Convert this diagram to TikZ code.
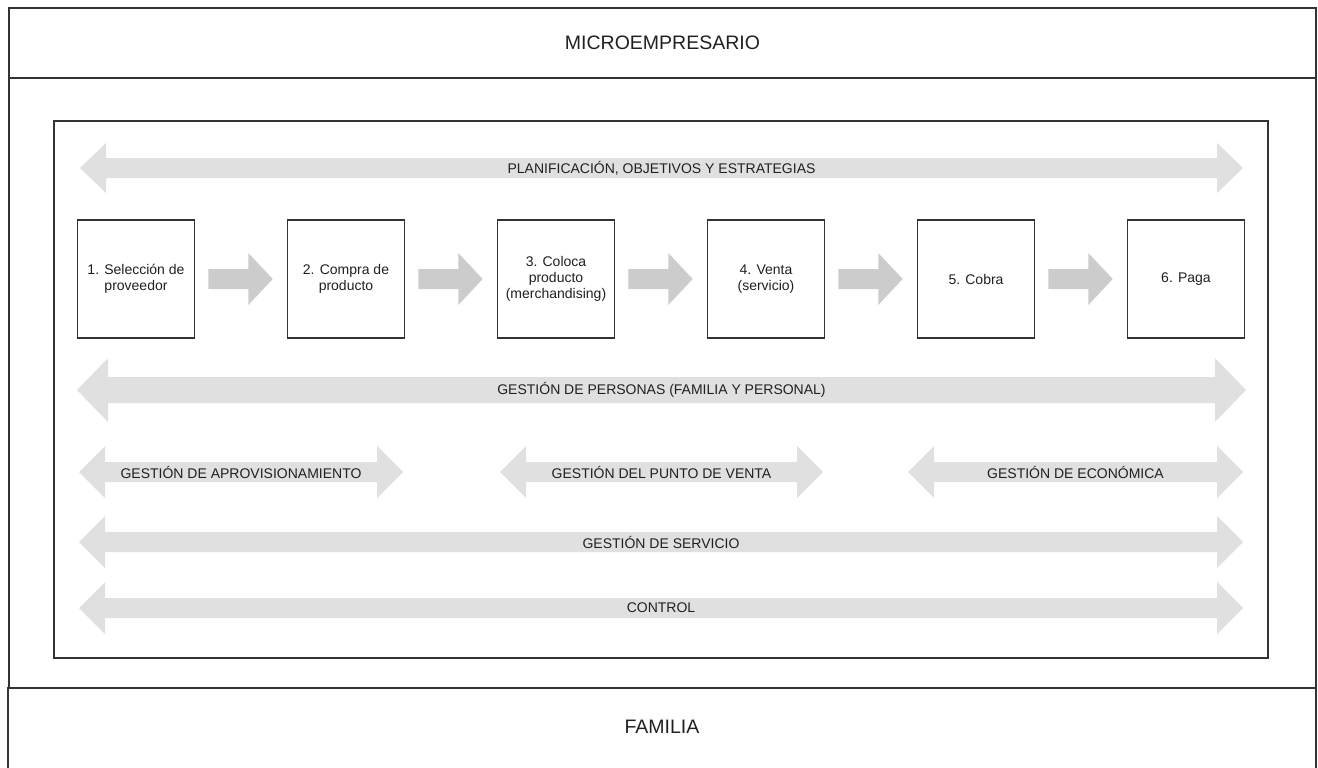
\documentclass[tikz,border=0pt]{standalone}
\usepackage{fontspec}
\setmainfont{Liberation Sans}
\usetikzlibrary{calc}
\definecolor{frame}{HTML}{333333}
\definecolor{bandgrey}{HTML}{E0E0E0}
\definecolor{flowgrey}{HTML}{CCCCCC}
\definecolor{ink}{HTML}{202020}

% wide double-headed band: left tip x, right tip x, y, shaft half-height, head half-height, head length
\newcommand{\bandarrow}[6]{%
  \fill[bandgrey] (#1,#3) -- (#1+#6,#3-#5) -- (#1+#6,#3-#4) -- (#2-#6,#3-#4)
    -- (#2-#6,#3-#5) -- (#2,#3) -- (#2-#6,#3+#5) -- (#2-#6,#3+#4)
    -- (#1+#6,#3+#4) -- (#1+#6,#3+#5) -- cycle;}

% block arrow from one step box to the next
\newcommand{\flowarrow}[2]{%
  \fill[flowgrey] ($(#1.east)+(13,-10)$) -- ($(#1.east)+(53,-10)$) -- ($(#1.east)+(53,-26)$)
    -- ($(#2.west)+(-14,0)$) -- ($(#1.east)+(53,26)$) -- ($(#1.east)+(53,10)$)
    -- ($(#1.east)+(13,10)$) -- cycle;}

\begin{document}
\begin{tikzpicture}[x=1pt,y=-1pt,
  frameline/.style={draw=frame,line width=1.4pt},
  stepbox/.style={draw=frame,line width=1.6pt,minimum width=117pt,minimum height=118pt,
    inner sep=0pt,align=center,font=\fontsize{14}{16}\selectfont,text=ink},
  bandlabel/.style={font=\fontsize{14}{16}\selectfont,text=ink,inner sep=0pt},
  titlelabel/.style={font=\fontsize{19.5}{22}\selectfont,text=ink,inner sep=0pt}]
\useasboundingbox (0,0) rectangle (1318,768);

% outer frames
\draw[frameline] (9,8) rectangle (1316,78);
\draw[frameline] (9,78) rectangle (1316,688);
\draw[frameline] (8,770) -- (8,688) -- (1316,688) -- (1316,770);
\node[titlelabel] (micro) at (662.5,43) {MICROEMPRESARIO};
\node[titlelabel] (familia) at (662,727) {FAMILIA};

% inner frame
\draw[frameline] (54,121) rectangle (1268,658);

% planning band
\bandarrow{80}{1243}{168}{10}{25}{26}
\node[bandlabel] (plan) at (661.5,168) {PLANIFICACIÓN, OBJETIVOS Y ESTRATEGIAS};

% process steps
\node[stepbox] (s1) at (136,279) {1. Selección de\\proveedor};
\node[stepbox] (s2) at (346,279) {2. Compra de\\producto};
\node[stepbox] (s3) at (556,279) {3. Coloca\\producto\\(merchandising)};
\node[stepbox] (s4) at (766,279) {4. Venta\\(servicio)};
\node[stepbox] (s5) at (976,279) {5. Cobra};
\node[stepbox] (s6) at (1186,279) {6. Paga};
\flowarrow{s1}{s2}
\flowarrow{s2}{s3}
\flowarrow{s3}{s4}
\flowarrow{s4}{s5}
\flowarrow{s5}{s6}

% management bands
\bandarrow{77}{1246}{390}{13}{32}{31}
\node[bandlabel] (personas) at (661.5,390) {GESTIÓN DE PERSONAS (FAMILIA Y PERSONAL)};

\bandarrow{79}{403}{472}{10}{26}{26}
\node[bandlabel] (aprov) at (241,472) {GESTIÓN DE APROVISIONAMIENTO};
\bandarrow{500}{823}{472}{10}{26}{26}
\node[bandlabel] (punto) at (661.5,472) {GESTIÓN DEL PUNTO DE VENTA};
\bandarrow{908}{1243}{472}{10}{26}{26}
\node[bandlabel] (econ) at (1075.5,472) {GESTIÓN DE ECONÓMICA};

\bandarrow{79}{1243}{542}{10}{26}{26}
\node[bandlabel] (servicio) at (661,542) {GESTIÓN DE SERVICIO};

\bandarrow{79}{1243}{608}{10}{26}{26}
\node[bandlabel] (control) at (661,608) {CONTROL};
\end{tikzpicture}
\end{document}
